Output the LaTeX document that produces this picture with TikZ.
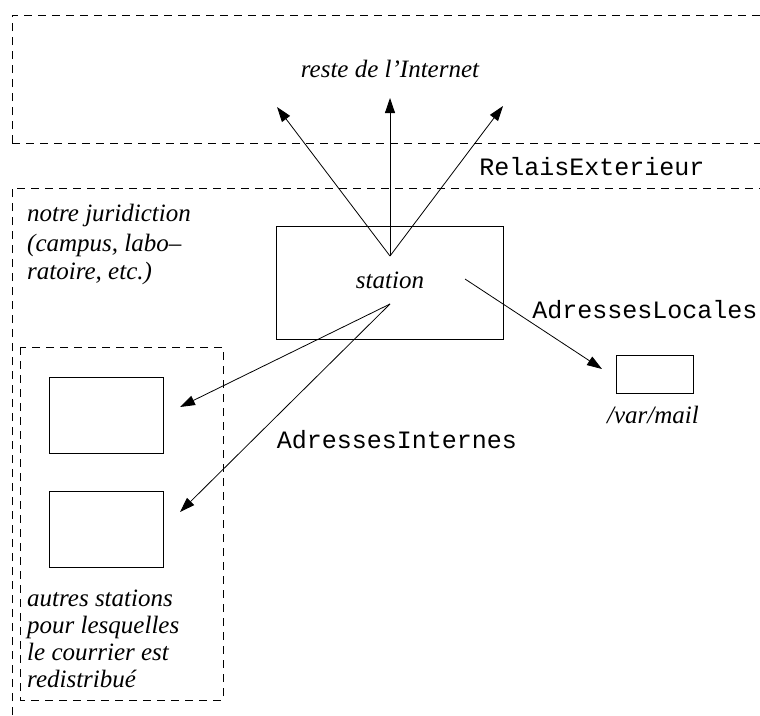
\documentclass[tikz,border=0pt]{standalone}
\usepackage{fontspec}
\setmainfont{Liberation Serif}
\setmonofont{Liberation Mono}
\usetikzlibrary{arrows.meta}
\begin{document}
\begin{tikzpicture}[x=1pt,y=-1pt,
  zone/.style={dash pattern=on 8pt off 6pt, line width=0.9pt},
  hostbox/.style={draw, line width=0.9pt, rectangle, inner sep=0pt},
  label/.style={font=\fontsize{25}{28}\selectfont\itshape, inner sep=0pt},
  mono/.style={font=\fontsize{25}{28}\selectfont\ttfamily, inner sep=0pt},
  flow/.style={line width=0.8pt, -{Triangle[length=15pt,width=10pt]}}]
\useasboundingbox (0,0) rectangle (760,715);

% outer zones
\draw[zone] (12,143) -- (12,15) -- (760,15);
\draw[zone] (12,143) -- (760,143);
\draw[zone] (12,715) -- (12,188) -- (760,188);
\draw[zone] (20,347) rectangle (223,700);

% zone texts
\node[label] (internet) at (390,69) {reste de l’Internet};
\node[mono] (relais) at (592,167) {RelaisExterieur};
\node[label, anchor=base west, align=left] (juri) at (27,279)
  {notre juridiction\\[2pt](campus, labo–\\ratoire, etc.)};

% hosts
\node[hostbox, minimum width=227pt, minimum height=113pt] (station) at (389.5,282.5) {};
\node[label] (stationtxt) at (390,280) {station};
\node[hostbox, minimum width=77pt, minimum height=38pt] (mail) at (654.5,374) {};
\node[label] (mailtxt) at (653,415) {/var/mail};
\node[hostbox, minimum width=114pt, minimum height=76pt] (hostA) at (106,415) {};
\node[hostbox, minimum width=114pt, minimum height=76pt] (hostB) at (106,529) {};
\node[label, anchor=base west, align=left] (autres) at (27,687)
  {autres stations\\[-1pt]pour lesquelles\\[-1pt]le courrier est\\[-1pt]redistribué};

\node[mono] (locales) at (645,310) {AdressesLocales};
\node[mono] (internes) at (397,440) {AdressesInternes};

% connector ends
\coordinate (apex) at (390,256);
\coordinate (outL) at (277,107);
\coordinate (outM) at (390,98);
\coordinate (outR) at (503,106);
\coordinate (localsrc) at (465,279);
\coordinate (localdst) at (602,369);
\coordinate (intsrc) at (390,304);
\coordinate (intA) at (180,407);
\coordinate (intB) at (180,512);

\draw[flow] (apex) -- (outL);
\draw[flow] (apex) -- (outM);
\draw[flow] (apex) -- (outR);
\draw[flow] (localsrc) -- (localdst);
\draw[flow] (intsrc) -- (intA);
\draw[flow] (intsrc) -- (intB);
\end{tikzpicture}
\end{document}
